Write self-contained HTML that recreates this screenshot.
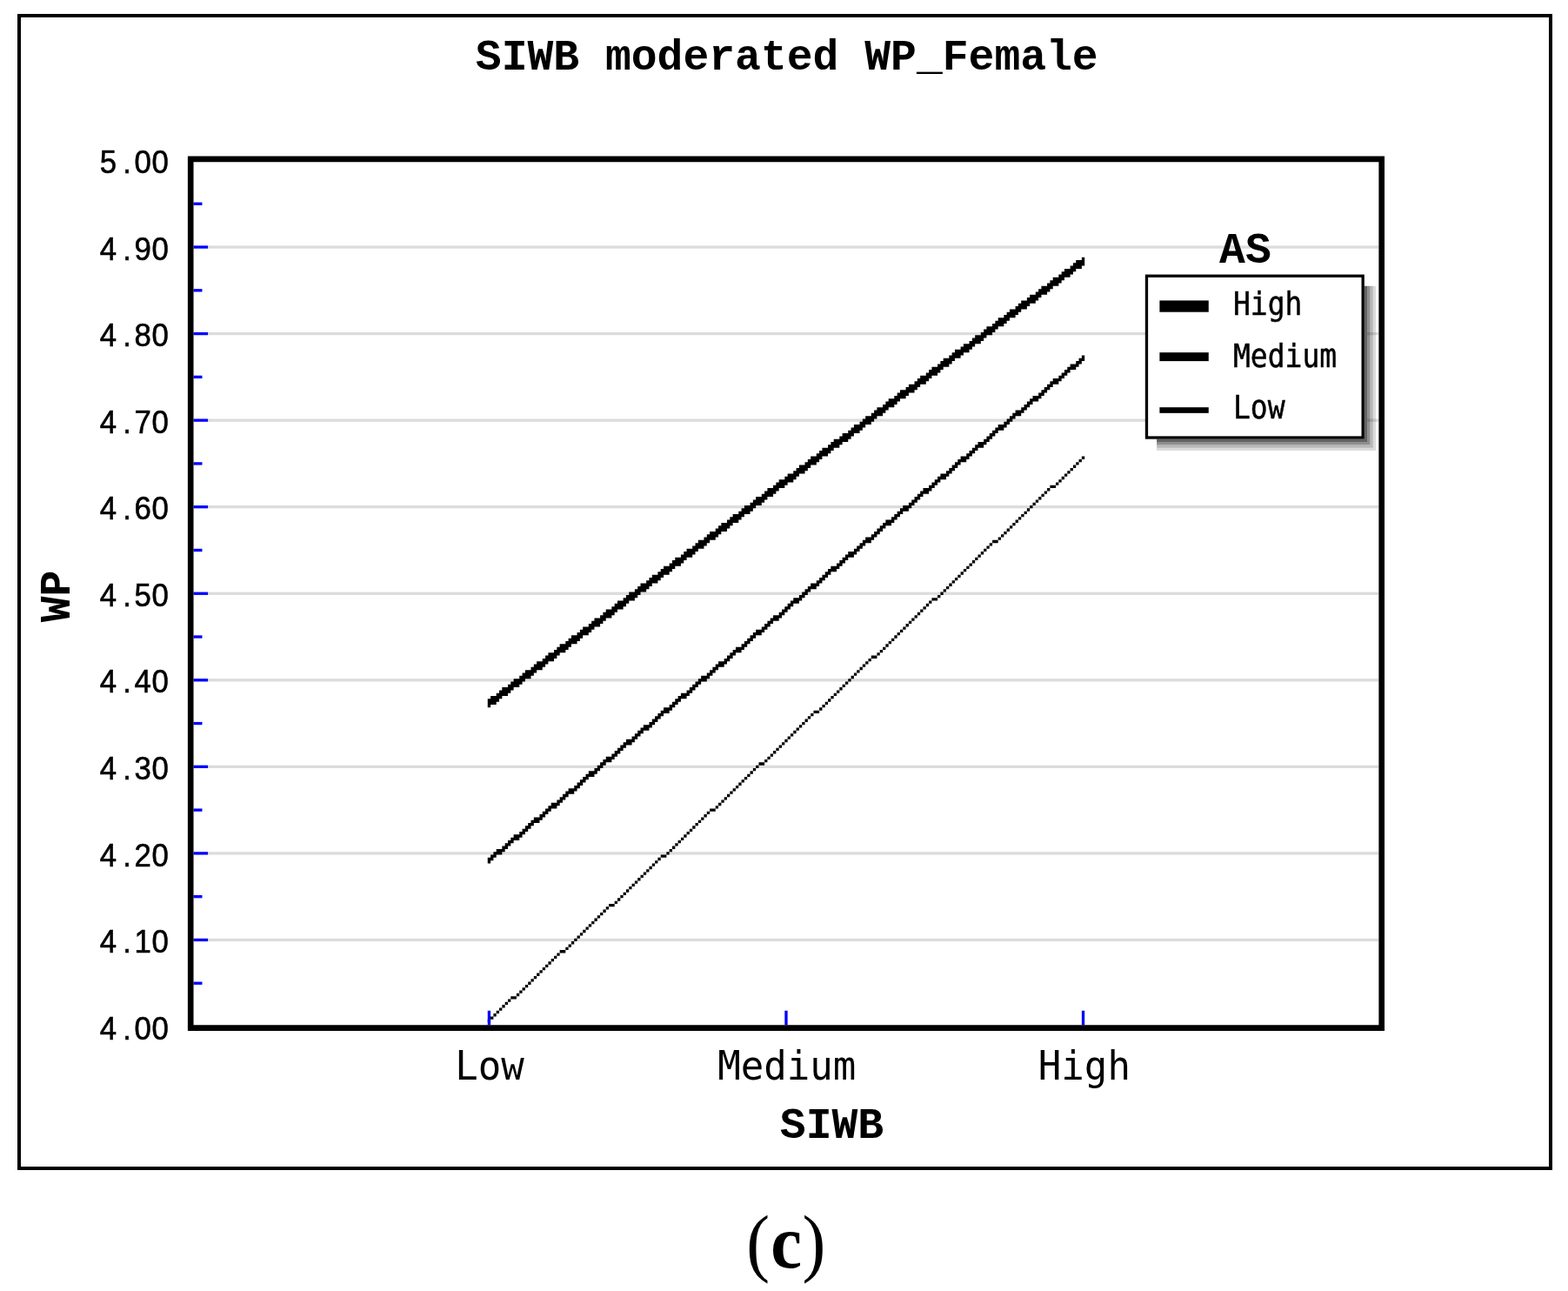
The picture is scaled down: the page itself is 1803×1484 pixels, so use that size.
<!DOCTYPE html>
<html lang="en">
<head>
<meta charset="utf-8">
<title>SIWB moderated WP_Female</title>
<style>
html,body{margin:0;padding:0;background:#fff;}
body{width:1803px;height:1484px;overflow:hidden;}
svg{display:block;}
text{fill:#000;white-space:pre;}
.m{font-family:"DejaVu Sans Mono", "Liberation Mono", monospace;}
.n{font-family:"Liberation Sans", "DejaVu Sans", sans-serif;stroke:#000;stroke-width:0.6px;}
.k{stroke:#000;stroke-width:0.5px;}
.b{font-family:"Liberation Mono", "DejaVu Sans Mono", monospace;font-weight:bold;}
.s{font-family:"Liberation Serif", "DejaVu Serif", serif;}
</style>
</head>
<body>
<svg width="1803" height="1484" viewBox="0 0 1803 1484">
<rect x="0" y="0" width="1803" height="1484" fill="#fff"/>
<!-- outer frame -->
<rect x="22" y="18" width="1761" height="1325" fill="none" stroke="#000" stroke-width="4"/>
<!-- horizontal grid lines -->
<g fill="#dcdcdc">
<rect x="239.11" y="282.37" width="1346.30" height="3.32" fill="#dcdcdc"/>
<rect x="239.11" y="381.92" width="1081.02" height="3.32" fill="#dcdcdc"/>
<rect x="1572.14" y="381.92" width="13.27" height="3.32" fill="#dcdcdc"/>
<rect x="239.11" y="481.47" width="1081.02" height="3.32" fill="#dcdcdc"/>
<rect x="1572.14" y="481.47" width="13.27" height="3.32" fill="#dcdcdc"/>
<rect x="239.11" y="581.03" width="1346.30" height="3.31" fill="#dcdcdc"/>
<rect x="239.11" y="680.58" width="1346.30" height="3.32" fill="#dcdcdc"/>
<rect x="239.11" y="780.13" width="1346.30" height="3.32" fill="#dcdcdc"/>
<rect x="239.11" y="879.68" width="1346.30" height="3.32" fill="#dcdcdc"/>
<rect x="239.11" y="979.23" width="1346.30" height="3.32" fill="#dcdcdc"/>
<rect x="239.11" y="1078.79" width="1346.30" height="3.31" fill="#dcdcdc"/>
</g>
<!-- data series -->
<path fill="#000" d="M560.76 1171.70 L564.08 1171.70 L564.08 1168.38 L567.40 1168.38 L567.40 1165.06 L570.71 1165.06 L570.71 1161.75 L574.03 1161.75 L574.03 1158.43 L577.34 1158.43 L577.34 1155.11 L580.66 1155.11 L580.66 1151.79 L583.98 1151.79 L583.98 1148.47 L587.29 1148.47 L587.29 1145.15 L590.61 1145.15 L593.92 1145.15 L593.92 1141.84 L597.24 1141.84 L597.24 1138.52 L600.56 1138.52 L600.56 1135.20 L603.87 1135.20 L603.87 1131.88 L607.19 1131.88 L607.19 1128.56 L610.50 1128.56 L610.50 1125.24 L613.82 1125.24 L613.82 1121.93 L617.14 1121.93 L617.14 1118.61 L620.45 1118.61 L620.45 1115.29 L623.77 1115.29 L623.77 1111.97 L627.08 1111.97 L627.08 1108.65 L630.40 1108.65 L630.40 1105.33 L633.72 1105.33 L633.72 1102.02 L637.03 1102.02 L637.03 1098.70 L640.35 1098.70 L640.35 1095.38 L643.66 1095.38 L643.66 1092.06 L646.98 1092.06 L650.30 1092.06 L650.30 1088.74 L653.61 1088.74 L653.61 1085.42 L656.93 1085.42 L656.93 1082.10 L660.24 1082.10 L660.24 1078.79 L663.56 1078.79 L663.56 1075.47 L666.88 1075.47 L666.88 1072.15 L670.19 1072.15 L670.19 1068.83 L673.51 1068.83 L673.51 1065.51 L676.82 1065.51 L676.82 1062.19 L680.14 1062.19 L680.14 1058.88 L683.46 1058.88 L683.46 1055.56 L686.77 1055.56 L686.77 1052.24 L690.09 1052.24 L690.09 1048.92 L693.40 1048.92 L693.40 1045.60 L696.72 1045.60 L696.72 1042.28 L700.04 1042.28 L700.04 1038.97 L703.35 1038.97 L706.67 1038.97 L706.67 1035.65 L709.98 1035.65 L709.98 1032.33 L713.30 1032.33 L713.30 1029.01 L716.62 1029.01 L716.62 1025.69 L719.93 1025.69 L719.93 1022.37 L723.25 1022.37 L723.25 1019.06 L726.56 1019.06 L726.56 1015.74 L729.88 1015.74 L729.88 1012.42 L733.20 1012.42 L733.20 1009.10 L736.51 1009.10 L736.51 1005.78 L739.83 1005.78 L739.83 1002.46 L743.14 1002.46 L743.14 999.14 L746.46 999.14 L746.46 995.83 L749.78 995.83 L749.78 992.51 L753.09 992.51 L753.09 989.19 L756.41 989.19 L756.41 985.87 L759.72 985.87 L759.72 982.55 L763.04 982.55 L766.36 982.55 L766.36 979.23 L769.67 979.23 L769.67 975.92 L772.99 975.92 L772.99 972.60 L776.30 972.60 L776.30 969.28 L779.62 969.28 L779.62 965.96 L782.94 965.96 L782.94 962.64 L786.25 962.64 L786.25 959.32 L789.57 959.32 L789.57 956.01 L792.88 956.01 L792.88 952.69 L796.20 952.69 L796.20 949.37 L799.52 949.37 L799.52 946.05 L802.83 946.05 L802.83 942.73 L806.15 942.73 L806.15 939.41 L809.46 939.41 L809.46 936.10 L812.78 936.10 L812.78 932.78 L816.10 932.78 L816.10 929.46 L819.41 929.46 L822.73 929.46 L822.73 926.14 L826.04 926.14 L826.04 922.82 L829.36 922.82 L829.36 919.50 L832.68 919.50 L832.68 916.18 L835.99 916.18 L835.99 912.87 L839.31 912.87 L839.31 909.55 L842.62 909.55 L842.62 906.23 L845.94 906.23 L845.94 902.91 L849.26 902.91 L849.26 899.59 L852.57 899.59 L852.57 896.27 L855.89 896.27 L855.89 892.96 L859.20 892.96 L859.20 889.64 L862.52 889.64 L862.52 886.32 L865.84 886.32 L865.84 883.00 L869.15 883.00 L869.15 879.68 L872.47 879.68 L872.47 876.36 L875.78 876.36 L879.10 876.36 L879.10 873.05 L882.42 873.05 L882.42 869.73 L885.73 869.73 L885.73 866.41 L889.05 866.41 L889.05 863.09 L892.36 863.09 L892.36 859.77 L895.68 859.77 L895.68 856.45 L899.00 856.45 L899.00 853.14 L902.31 853.14 L902.31 849.82 L905.63 849.82 L905.63 846.50 L908.94 846.50 L908.94 843.18 L912.26 843.18 L912.26 839.86 L915.58 839.86 L915.58 836.54 L918.89 836.54 L918.89 833.22 L922.21 833.22 L922.21 829.91 L925.52 829.91 L925.52 826.59 L928.84 826.59 L928.84 823.27 L932.16 823.27 L932.16 819.95 L935.47 819.95 L935.47 816.63 L938.79 816.63 L942.10 816.63 L942.10 813.31 L945.42 813.31 L945.42 810.00 L948.74 810.00 L948.74 806.68 L952.05 806.68 L952.05 803.36 L955.37 803.36 L955.37 800.04 L958.68 800.04 L958.68 796.72 L962.00 796.72 L962.00 793.40 L965.32 793.40 L965.32 790.09 L968.63 790.09 L968.63 786.77 L971.95 786.77 L971.95 783.45 L975.26 783.45 L975.26 780.13 L978.58 780.13 L978.58 776.81 L981.90 776.81 L981.90 773.49 L985.21 773.49 L985.21 770.18 L988.53 770.18 L988.53 766.86 L991.84 766.86 L991.84 763.54 L995.16 763.54 L995.16 760.22 L998.48 760.22 L998.48 756.90 L1001.79 756.90 L1001.79 753.58 L1005.11 753.58 L1008.42 753.58 L1008.42 750.26 L1011.74 750.26 L1011.74 746.95 L1015.06 746.95 L1015.06 743.63 L1018.37 743.63 L1018.37 740.31 L1021.69 740.31 L1021.69 736.99 L1025.00 736.99 L1025.00 733.67 L1028.32 733.67 L1028.32 730.35 L1031.64 730.35 L1031.64 727.04 L1034.95 727.04 L1034.95 723.72 L1038.27 723.72 L1038.27 720.40 L1041.58 720.40 L1041.58 717.08 L1044.90 717.08 L1044.90 713.76 L1048.22 713.76 L1048.22 710.44 L1051.53 710.44 L1051.53 707.13 L1054.85 707.13 L1054.85 703.81 L1058.16 703.81 L1058.16 700.49 L1061.48 700.49 L1061.48 697.17 L1064.80 697.17 L1064.80 693.85 L1068.11 693.85 L1068.11 690.53 L1071.43 690.53 L1071.43 687.22 L1074.74 687.22 L1078.06 687.22 L1078.06 683.90 L1081.38 683.90 L1081.38 680.58 L1084.69 680.58 L1084.69 677.26 L1088.01 677.26 L1088.01 673.94 L1091.32 673.94 L1091.32 670.62 L1094.64 670.62 L1094.64 667.30 L1097.96 667.30 L1097.96 663.99 L1101.27 663.99 L1101.27 660.67 L1104.59 660.67 L1104.59 657.35 L1107.90 657.35 L1107.90 654.03 L1111.22 654.03 L1111.22 650.71 L1114.54 650.71 L1114.54 647.39 L1117.85 647.39 L1117.85 644.08 L1121.17 644.08 L1121.17 640.76 L1124.48 640.76 L1124.48 637.44 L1127.80 637.44 L1127.80 634.12 L1131.12 634.12 L1131.12 630.80 L1134.43 630.80 L1134.43 627.48 L1137.75 627.48 L1137.75 624.17 L1141.06 624.17 L1141.06 620.85 L1144.38 620.85 L1147.70 620.85 L1147.70 617.53 L1151.01 617.53 L1151.01 614.21 L1154.33 614.21 L1154.33 610.89 L1157.64 610.89 L1157.64 607.57 L1160.96 607.57 L1160.96 604.26 L1164.28 604.26 L1164.28 600.94 L1167.59 600.94 L1167.59 597.62 L1170.91 597.62 L1170.91 594.30 L1174.22 594.30 L1174.22 590.98 L1177.54 590.98 L1177.54 587.66 L1180.86 587.66 L1180.86 584.34 L1184.17 584.34 L1184.17 581.03 L1187.49 581.03 L1187.49 577.71 L1190.80 577.71 L1190.80 574.39 L1194.12 574.39 L1194.12 571.07 L1197.44 571.07 L1197.44 567.75 L1200.75 567.75 L1200.75 564.43 L1204.07 564.43 L1204.07 561.12 L1207.38 561.12 L1207.38 557.80 L1210.70 557.80 L1214.02 557.80 L1214.02 554.48 L1217.33 554.48 L1217.33 551.16 L1220.65 551.16 L1220.65 547.84 L1223.96 547.84 L1223.96 544.52 L1227.28 544.52 L1227.28 541.21 L1230.60 541.21 L1230.60 537.89 L1233.91 537.89 L1233.91 534.57 L1237.23 534.57 L1237.23 531.25 L1240.54 531.25 L1240.54 527.93 L1243.86 527.93 L1243.86 524.61 L1247.18 524.61 L1247.18 527.93 L1243.86 527.93 L1243.86 531.25 L1240.54 531.25 L1240.54 534.57 L1237.23 534.57 L1237.23 537.89 L1233.91 537.89 L1233.91 541.21 L1230.60 541.21 L1230.60 544.52 L1227.28 544.52 L1227.28 547.84 L1223.96 547.84 L1223.96 551.16 L1220.65 551.16 L1220.65 554.48 L1217.33 554.48 L1217.33 557.80 L1214.02 557.80 L1214.02 561.12 L1210.70 561.12 L1207.38 561.12 L1207.38 564.43 L1204.07 564.43 L1204.07 567.75 L1200.75 567.75 L1200.75 571.07 L1197.44 571.07 L1197.44 574.39 L1194.12 574.39 L1194.12 577.71 L1190.80 577.71 L1190.80 581.03 L1187.49 581.03 L1187.49 584.34 L1184.17 584.34 L1184.17 587.66 L1180.86 587.66 L1180.86 590.98 L1177.54 590.98 L1177.54 594.30 L1174.22 594.30 L1174.22 597.62 L1170.91 597.62 L1170.91 600.94 L1167.59 600.94 L1167.59 604.26 L1164.28 604.26 L1164.28 607.57 L1160.96 607.57 L1160.96 610.89 L1157.64 610.89 L1157.64 614.21 L1154.33 614.21 L1154.33 617.53 L1151.01 617.53 L1151.01 620.85 L1147.70 620.85 L1147.70 624.17 L1144.38 624.17 L1141.06 624.17 L1141.06 627.48 L1137.75 627.48 L1137.75 630.80 L1134.43 630.80 L1134.43 634.12 L1131.12 634.12 L1131.12 637.44 L1127.80 637.44 L1127.80 640.76 L1124.48 640.76 L1124.48 644.08 L1121.17 644.08 L1121.17 647.39 L1117.85 647.39 L1117.85 650.71 L1114.54 650.71 L1114.54 654.03 L1111.22 654.03 L1111.22 657.35 L1107.90 657.35 L1107.90 660.67 L1104.59 660.67 L1104.59 663.99 L1101.27 663.99 L1101.27 667.30 L1097.96 667.30 L1097.96 670.62 L1094.64 670.62 L1094.64 673.94 L1091.32 673.94 L1091.32 677.26 L1088.01 677.26 L1088.01 680.58 L1084.69 680.58 L1084.69 683.90 L1081.38 683.90 L1081.38 687.22 L1078.06 687.22 L1078.06 690.53 L1074.74 690.53 L1071.43 690.53 L1071.43 693.85 L1068.11 693.85 L1068.11 697.17 L1064.80 697.17 L1064.80 700.49 L1061.48 700.49 L1061.48 703.81 L1058.16 703.81 L1058.16 707.13 L1054.85 707.13 L1054.85 710.44 L1051.53 710.44 L1051.53 713.76 L1048.22 713.76 L1048.22 717.08 L1044.90 717.08 L1044.90 720.40 L1041.58 720.40 L1041.58 723.72 L1038.27 723.72 L1038.27 727.04 L1034.95 727.04 L1034.95 730.35 L1031.64 730.35 L1031.64 733.67 L1028.32 733.67 L1028.32 736.99 L1025.00 736.99 L1025.00 740.31 L1021.69 740.31 L1021.69 743.63 L1018.37 743.63 L1018.37 746.95 L1015.06 746.95 L1015.06 750.26 L1011.74 750.26 L1011.74 753.58 L1008.42 753.58 L1008.42 756.90 L1005.11 756.90 L1001.79 756.90 L1001.79 760.22 L998.48 760.22 L998.48 763.54 L995.16 763.54 L995.16 766.86 L991.84 766.86 L991.84 770.18 L988.53 770.18 L988.53 773.49 L985.21 773.49 L985.21 776.81 L981.90 776.81 L981.90 780.13 L978.58 780.13 L978.58 783.45 L975.26 783.45 L975.26 786.77 L971.95 786.77 L971.95 790.09 L968.63 790.09 L968.63 793.40 L965.32 793.40 L965.32 796.72 L962.00 796.72 L962.00 800.04 L958.68 800.04 L958.68 803.36 L955.37 803.36 L955.37 806.68 L952.05 806.68 L952.05 810.00 L948.74 810.00 L948.74 813.31 L945.42 813.31 L945.42 816.63 L942.10 816.63 L942.10 819.95 L938.79 819.95 L935.47 819.95 L935.47 823.27 L932.16 823.27 L932.16 826.59 L928.84 826.59 L928.84 829.91 L925.52 829.91 L925.52 833.22 L922.21 833.22 L922.21 836.54 L918.89 836.54 L918.89 839.86 L915.58 839.86 L915.58 843.18 L912.26 843.18 L912.26 846.50 L908.94 846.50 L908.94 849.82 L905.63 849.82 L905.63 853.14 L902.31 853.14 L902.31 856.45 L899.00 856.45 L899.00 859.77 L895.68 859.77 L895.68 863.09 L892.36 863.09 L892.36 866.41 L889.05 866.41 L889.05 869.73 L885.73 869.73 L885.73 873.05 L882.42 873.05 L882.42 876.36 L879.10 876.36 L879.10 879.68 L875.78 879.68 L872.47 879.68 L872.47 883.00 L869.15 883.00 L869.15 886.32 L865.84 886.32 L865.84 889.64 L862.52 889.64 L862.52 892.96 L859.20 892.96 L859.20 896.27 L855.89 896.27 L855.89 899.59 L852.57 899.59 L852.57 902.91 L849.26 902.91 L849.26 906.23 L845.94 906.23 L845.94 909.55 L842.62 909.55 L842.62 912.87 L839.31 912.87 L839.31 916.18 L835.99 916.18 L835.99 919.50 L832.68 919.50 L832.68 922.82 L829.36 922.82 L829.36 926.14 L826.04 926.14 L826.04 929.46 L822.73 929.46 L822.73 932.78 L819.41 932.78 L816.10 932.78 L816.10 936.10 L812.78 936.10 L812.78 939.41 L809.46 939.41 L809.46 942.73 L806.15 942.73 L806.15 946.05 L802.83 946.05 L802.83 949.37 L799.52 949.37 L799.52 952.69 L796.20 952.69 L796.20 956.01 L792.88 956.01 L792.88 959.32 L789.57 959.32 L789.57 962.64 L786.25 962.64 L786.25 965.96 L782.94 965.96 L782.94 969.28 L779.62 969.28 L779.62 972.60 L776.30 972.60 L776.30 975.92 L772.99 975.92 L772.99 979.23 L769.67 979.23 L769.67 982.55 L766.36 982.55 L766.36 985.87 L763.04 985.87 L759.72 985.87 L759.72 989.19 L756.41 989.19 L756.41 992.51 L753.09 992.51 L753.09 995.83 L749.78 995.83 L749.78 999.14 L746.46 999.14 L746.46 1002.46 L743.14 1002.46 L743.14 1005.78 L739.83 1005.78 L739.83 1009.10 L736.51 1009.10 L736.51 1012.42 L733.20 1012.42 L733.20 1015.74 L729.88 1015.74 L729.88 1019.06 L726.56 1019.06 L726.56 1022.37 L723.25 1022.37 L723.25 1025.69 L719.93 1025.69 L719.93 1029.01 L716.62 1029.01 L716.62 1032.33 L713.30 1032.33 L713.30 1035.65 L709.98 1035.65 L709.98 1038.97 L706.67 1038.97 L706.67 1042.28 L703.35 1042.28 L700.04 1042.28 L700.04 1045.60 L696.72 1045.60 L696.72 1048.92 L693.40 1048.92 L693.40 1052.24 L690.09 1052.24 L690.09 1055.56 L686.77 1055.56 L686.77 1058.88 L683.46 1058.88 L683.46 1062.19 L680.14 1062.19 L680.14 1065.51 L676.82 1065.51 L676.82 1068.83 L673.51 1068.83 L673.51 1072.15 L670.19 1072.15 L670.19 1075.47 L666.88 1075.47 L666.88 1078.79 L663.56 1078.79 L663.56 1082.10 L660.24 1082.10 L660.24 1085.42 L656.93 1085.42 L656.93 1088.74 L653.61 1088.74 L653.61 1092.06 L650.30 1092.06 L650.30 1095.38 L646.98 1095.38 L643.66 1095.38 L643.66 1098.70 L640.35 1098.70 L640.35 1102.02 L637.03 1102.02 L637.03 1105.33 L633.72 1105.33 L633.72 1108.65 L630.40 1108.65 L630.40 1111.97 L627.08 1111.97 L627.08 1115.29 L623.77 1115.29 L623.77 1118.61 L620.45 1118.61 L620.45 1121.93 L617.14 1121.93 L617.14 1125.24 L613.82 1125.24 L613.82 1128.56 L610.50 1128.56 L610.50 1131.88 L607.19 1131.88 L607.19 1135.20 L603.87 1135.20 L603.87 1138.52 L600.56 1138.52 L600.56 1141.84 L597.24 1141.84 L597.24 1145.15 L593.92 1145.15 L593.92 1148.47 L590.61 1148.47 L587.29 1148.47 L587.29 1151.79 L583.98 1151.79 L583.98 1155.11 L580.66 1155.11 L580.66 1158.43 L577.34 1158.43 L577.34 1161.75 L574.03 1161.75 L574.03 1165.06 L570.71 1165.06 L570.71 1168.38 L567.40 1168.38 L567.40 1171.70 L564.08 1171.70 L564.08 1175.02 L560.76 1175.02Z"/>
<path fill="#000" d="M560.76 985.87 L564.08 985.87 L564.08 982.55 L567.40 982.55 L567.40 979.23 L570.71 979.23 L570.71 975.92 L574.03 975.92 L577.34 975.92 L577.34 972.60 L580.66 972.60 L580.66 969.28 L583.98 969.28 L583.98 965.96 L587.29 965.96 L587.29 962.64 L590.61 962.64 L590.61 959.32 L593.92 959.32 L597.24 959.32 L597.24 956.01 L600.56 956.01 L600.56 952.69 L603.87 952.69 L603.87 949.37 L607.19 949.37 L607.19 946.05 L610.50 946.05 L610.50 942.73 L613.82 942.73 L613.82 939.41 L617.14 939.41 L620.45 939.41 L620.45 936.10 L623.77 936.10 L623.77 932.78 L627.08 932.78 L627.08 929.46 L630.40 929.46 L630.40 926.14 L633.72 926.14 L633.72 922.82 L637.03 922.82 L640.35 922.82 L640.35 919.50 L643.66 919.50 L643.66 916.18 L646.98 916.18 L646.98 912.87 L650.30 912.87 L650.30 909.55 L653.61 909.55 L653.61 906.23 L656.93 906.23 L660.24 906.23 L660.24 902.91 L663.56 902.91 L663.56 899.59 L666.88 899.59 L666.88 896.27 L670.19 896.27 L670.19 892.96 L673.51 892.96 L673.51 889.64 L676.82 889.64 L676.82 886.32 L680.14 886.32 L683.46 886.32 L683.46 883.00 L686.77 883.00 L686.77 879.68 L690.09 879.68 L690.09 876.36 L693.40 876.36 L693.40 873.05 L696.72 873.05 L696.72 869.73 L700.04 869.73 L703.35 869.73 L703.35 866.41 L706.67 866.41 L706.67 863.09 L709.98 863.09 L709.98 859.77 L713.30 859.77 L713.30 856.45 L716.62 856.45 L716.62 853.14 L719.93 853.14 L719.93 849.82 L723.25 849.82 L726.56 849.82 L726.56 846.50 L729.88 846.50 L729.88 843.18 L733.20 843.18 L733.20 839.86 L736.51 839.86 L736.51 836.54 L739.83 836.54 L739.83 833.22 L743.14 833.22 L746.46 833.22 L746.46 829.91 L749.78 829.91 L749.78 826.59 L753.09 826.59 L753.09 823.27 L756.41 823.27 L756.41 819.95 L759.72 819.95 L759.72 816.63 L763.04 816.63 L763.04 813.31 L766.36 813.31 L769.67 813.31 L769.67 810.00 L772.99 810.00 L772.99 806.68 L776.30 806.68 L776.30 803.36 L779.62 803.36 L779.62 800.04 L782.94 800.04 L782.94 796.72 L786.25 796.72 L789.57 796.72 L789.57 793.40 L792.88 793.40 L792.88 790.09 L796.20 790.09 L796.20 786.77 L799.52 786.77 L799.52 783.45 L802.83 783.45 L802.83 780.13 L806.15 780.13 L806.15 776.81 L809.46 776.81 L812.78 776.81 L812.78 773.49 L816.10 773.49 L816.10 770.18 L819.41 770.18 L819.41 766.86 L822.73 766.86 L822.73 763.54 L826.04 763.54 L826.04 760.22 L829.36 760.22 L832.68 760.22 L832.68 756.90 L835.99 756.90 L835.99 753.58 L839.31 753.58 L839.31 750.26 L842.62 750.26 L842.62 746.95 L845.94 746.95 L845.94 743.63 L849.26 743.63 L852.57 743.63 L852.57 740.31 L855.89 740.31 L855.89 736.99 L859.20 736.99 L859.20 733.67 L862.52 733.67 L862.52 730.35 L865.84 730.35 L865.84 727.04 L869.15 727.04 L869.15 723.72 L872.47 723.72 L875.78 723.72 L875.78 720.40 L879.10 720.40 L879.10 717.08 L882.42 717.08 L882.42 713.76 L885.73 713.76 L885.73 710.44 L889.05 710.44 L889.05 707.13 L892.36 707.13 L895.68 707.13 L895.68 703.81 L899.00 703.81 L899.00 700.49 L902.31 700.49 L902.31 697.17 L905.63 697.17 L905.63 693.85 L908.94 693.85 L908.94 690.53 L912.26 690.53 L912.26 687.22 L915.58 687.22 L918.89 687.22 L918.89 683.90 L922.21 683.90 L922.21 680.58 L925.52 680.58 L925.52 677.26 L928.84 677.26 L928.84 673.94 L932.16 673.94 L932.16 670.62 L935.47 670.62 L938.79 670.62 L938.79 667.30 L942.10 667.30 L942.10 663.99 L945.42 663.99 L945.42 660.67 L948.74 660.67 L948.74 657.35 L952.05 657.35 L952.05 654.03 L955.37 654.03 L955.37 650.71 L958.68 650.71 L962.00 650.71 L962.00 647.39 L965.32 647.39 L965.32 644.08 L968.63 644.08 L968.63 640.76 L971.95 640.76 L971.95 637.44 L975.26 637.44 L975.26 634.12 L978.58 634.12 L981.90 634.12 L981.90 630.80 L985.21 630.80 L985.21 627.48 L988.53 627.48 L988.53 624.17 L991.84 624.17 L991.84 620.85 L995.16 620.85 L995.16 617.53 L998.48 617.53 L1001.79 617.53 L1001.79 614.21 L1005.11 614.21 L1005.11 610.89 L1008.42 610.89 L1008.42 607.57 L1011.74 607.57 L1011.74 604.26 L1015.06 604.26 L1015.06 600.94 L1018.37 600.94 L1018.37 597.62 L1021.69 597.62 L1025.00 597.62 L1025.00 594.30 L1028.32 594.30 L1028.32 590.98 L1031.64 590.98 L1031.64 587.66 L1034.95 587.66 L1034.95 584.34 L1038.27 584.34 L1038.27 581.03 L1041.58 581.03 L1044.90 581.03 L1044.90 577.71 L1048.22 577.71 L1048.22 574.39 L1051.53 574.39 L1051.53 571.07 L1054.85 571.07 L1054.85 567.75 L1058.16 567.75 L1058.16 564.43 L1061.48 564.43 L1061.48 561.12 L1064.80 561.12 L1068.11 561.12 L1068.11 557.80 L1071.43 557.80 L1071.43 554.48 L1074.74 554.48 L1074.74 551.16 L1078.06 551.16 L1078.06 547.84 L1081.38 547.84 L1081.38 544.52 L1084.69 544.52 L1088.01 544.52 L1088.01 541.21 L1091.32 541.21 L1091.32 537.89 L1094.64 537.89 L1094.64 534.57 L1097.96 534.57 L1097.96 531.25 L1101.27 531.25 L1101.27 527.93 L1104.59 527.93 L1104.59 524.61 L1107.90 524.61 L1111.22 524.61 L1111.22 521.30 L1114.54 521.30 L1114.54 517.98 L1117.85 517.98 L1117.85 514.66 L1121.17 514.66 L1121.17 511.34 L1124.48 511.34 L1124.48 508.02 L1127.80 508.02 L1131.12 508.02 L1131.12 504.70 L1134.43 504.70 L1134.43 501.38 L1137.75 501.38 L1137.75 498.07 L1141.06 498.07 L1141.06 494.75 L1144.38 494.75 L1144.38 491.43 L1147.70 491.43 L1147.70 488.11 L1151.01 488.11 L1154.33 488.11 L1154.33 484.79 L1157.64 484.79 L1157.64 481.47 L1160.96 481.47 L1160.96 478.16 L1164.28 478.16 L1164.28 474.84 L1167.59 474.84 L1167.59 471.52 L1170.91 471.52 L1174.22 471.52 L1174.22 468.20 L1177.54 468.20 L1177.54 464.88 L1180.86 464.88 L1180.86 461.56 L1184.17 461.56 L1184.17 458.25 L1187.49 458.25 L1187.49 454.93 L1190.80 454.93 L1194.12 454.93 L1194.12 451.61 L1197.44 451.61 L1197.44 448.29 L1200.75 448.29 L1200.75 444.97 L1204.07 444.97 L1204.07 441.65 L1207.38 441.65 L1207.38 438.34 L1210.70 438.34 L1210.70 435.02 L1214.02 435.02 L1217.33 435.02 L1217.33 431.70 L1220.65 431.70 L1220.65 428.38 L1223.96 428.38 L1223.96 425.06 L1227.28 425.06 L1227.28 421.74 L1230.60 421.74 L1230.60 418.42 L1233.91 418.42 L1237.23 418.42 L1237.23 415.11 L1240.54 415.11 L1240.54 411.79 L1243.86 411.79 L1243.86 408.47 L1247.18 408.47 L1247.18 415.11 L1243.86 415.11 L1243.86 418.42 L1240.54 418.42 L1240.54 421.74 L1237.23 421.74 L1237.23 425.06 L1233.91 425.06 L1230.60 425.06 L1230.60 428.38 L1227.28 428.38 L1227.28 431.70 L1223.96 431.70 L1223.96 435.02 L1220.65 435.02 L1220.65 438.34 L1217.33 438.34 L1217.33 441.65 L1214.02 441.65 L1210.70 441.65 L1210.70 444.97 L1207.38 444.97 L1207.38 448.29 L1204.07 448.29 L1204.07 451.61 L1200.75 451.61 L1200.75 454.93 L1197.44 454.93 L1197.44 458.25 L1194.12 458.25 L1194.12 461.56 L1190.80 461.56 L1187.49 461.56 L1187.49 464.88 L1184.17 464.88 L1184.17 468.20 L1180.86 468.20 L1180.86 471.52 L1177.54 471.52 L1177.54 474.84 L1174.22 474.84 L1174.22 478.16 L1170.91 478.16 L1167.59 478.16 L1167.59 481.47 L1164.28 481.47 L1164.28 484.79 L1160.96 484.79 L1160.96 488.11 L1157.64 488.11 L1157.64 491.43 L1154.33 491.43 L1154.33 494.75 L1151.01 494.75 L1147.70 494.75 L1147.70 498.07 L1144.38 498.07 L1144.38 501.38 L1141.06 501.38 L1141.06 504.70 L1137.75 504.70 L1137.75 508.02 L1134.43 508.02 L1134.43 511.34 L1131.12 511.34 L1131.12 514.66 L1127.80 514.66 L1124.48 514.66 L1124.48 517.98 L1121.17 517.98 L1121.17 521.30 L1117.85 521.30 L1117.85 524.61 L1114.54 524.61 L1114.54 527.93 L1111.22 527.93 L1111.22 531.25 L1107.90 531.25 L1104.59 531.25 L1104.59 534.57 L1101.27 534.57 L1101.27 537.89 L1097.96 537.89 L1097.96 541.21 L1094.64 541.21 L1094.64 544.52 L1091.32 544.52 L1091.32 547.84 L1088.01 547.84 L1088.01 551.16 L1084.69 551.16 L1081.38 551.16 L1081.38 554.48 L1078.06 554.48 L1078.06 557.80 L1074.74 557.80 L1074.74 561.12 L1071.43 561.12 L1071.43 564.43 L1068.11 564.43 L1068.11 567.75 L1064.80 567.75 L1061.48 567.75 L1061.48 571.07 L1058.16 571.07 L1058.16 574.39 L1054.85 574.39 L1054.85 577.71 L1051.53 577.71 L1051.53 581.03 L1048.22 581.03 L1048.22 584.34 L1044.90 584.34 L1044.90 587.66 L1041.58 587.66 L1038.27 587.66 L1038.27 590.98 L1034.95 590.98 L1034.95 594.30 L1031.64 594.30 L1031.64 597.62 L1028.32 597.62 L1028.32 600.94 L1025.00 600.94 L1025.00 604.26 L1021.69 604.26 L1018.37 604.26 L1018.37 607.57 L1015.06 607.57 L1015.06 610.89 L1011.74 610.89 L1011.74 614.21 L1008.42 614.21 L1008.42 617.53 L1005.11 617.53 L1005.11 620.85 L1001.79 620.85 L1001.79 624.17 L998.48 624.17 L995.16 624.17 L995.16 627.48 L991.84 627.48 L991.84 630.80 L988.53 630.80 L988.53 634.12 L985.21 634.12 L985.21 637.44 L981.90 637.44 L981.90 640.76 L978.58 640.76 L975.26 640.76 L975.26 644.08 L971.95 644.08 L971.95 647.39 L968.63 647.39 L968.63 650.71 L965.32 650.71 L965.32 654.03 L962.00 654.03 L962.00 657.35 L958.68 657.35 L955.37 657.35 L955.37 660.67 L952.05 660.67 L952.05 663.99 L948.74 663.99 L948.74 667.30 L945.42 667.30 L945.42 670.62 L942.10 670.62 L942.10 673.94 L938.79 673.94 L938.79 677.26 L935.47 677.26 L932.16 677.26 L932.16 680.58 L928.84 680.58 L928.84 683.90 L925.52 683.90 L925.52 687.22 L922.21 687.22 L922.21 690.53 L918.89 690.53 L918.89 693.85 L915.58 693.85 L912.26 693.85 L912.26 697.17 L908.94 697.17 L908.94 700.49 L905.63 700.49 L905.63 703.81 L902.31 703.81 L902.31 707.13 L899.00 707.13 L899.00 710.44 L895.68 710.44 L895.68 713.76 L892.36 713.76 L889.05 713.76 L889.05 717.08 L885.73 717.08 L885.73 720.40 L882.42 720.40 L882.42 723.72 L879.10 723.72 L879.10 727.04 L875.78 727.04 L875.78 730.35 L872.47 730.35 L869.15 730.35 L869.15 733.67 L865.84 733.67 L865.84 736.99 L862.52 736.99 L862.52 740.31 L859.20 740.31 L859.20 743.63 L855.89 743.63 L855.89 746.95 L852.57 746.95 L852.57 750.26 L849.26 750.26 L845.94 750.26 L845.94 753.58 L842.62 753.58 L842.62 756.90 L839.31 756.90 L839.31 760.22 L835.99 760.22 L835.99 763.54 L832.68 763.54 L832.68 766.86 L829.36 766.86 L826.04 766.86 L826.04 770.18 L822.73 770.18 L822.73 773.49 L819.41 773.49 L819.41 776.81 L816.10 776.81 L816.10 780.13 L812.78 780.13 L812.78 783.45 L809.46 783.45 L806.15 783.45 L806.15 786.77 L802.83 786.77 L802.83 790.09 L799.52 790.09 L799.52 793.40 L796.20 793.40 L796.20 796.72 L792.88 796.72 L792.88 800.04 L789.57 800.04 L789.57 803.36 L786.25 803.36 L782.94 803.36 L782.94 806.68 L779.62 806.68 L779.62 810.00 L776.30 810.00 L776.30 813.31 L772.99 813.31 L772.99 816.63 L769.67 816.63 L769.67 819.95 L766.36 819.95 L763.04 819.95 L763.04 823.27 L759.72 823.27 L759.72 826.59 L756.41 826.59 L756.41 829.91 L753.09 829.91 L753.09 833.22 L749.78 833.22 L749.78 836.54 L746.46 836.54 L746.46 839.86 L743.14 839.86 L739.83 839.86 L739.83 843.18 L736.51 843.18 L736.51 846.50 L733.20 846.50 L733.20 849.82 L729.88 849.82 L729.88 853.14 L726.56 853.14 L726.56 856.45 L723.25 856.45 L719.93 856.45 L719.93 859.77 L716.62 859.77 L716.62 863.09 L713.30 863.09 L713.30 866.41 L709.98 866.41 L709.98 869.73 L706.67 869.73 L706.67 873.05 L703.35 873.05 L703.35 876.36 L700.04 876.36 L696.72 876.36 L696.72 879.68 L693.40 879.68 L693.40 883.00 L690.09 883.00 L690.09 886.32 L686.77 886.32 L686.77 889.64 L683.46 889.64 L683.46 892.96 L680.14 892.96 L676.82 892.96 L676.82 896.27 L673.51 896.27 L673.51 899.59 L670.19 899.59 L670.19 902.91 L666.88 902.91 L666.88 906.23 L663.56 906.23 L663.56 909.55 L660.24 909.55 L660.24 912.87 L656.93 912.87 L653.61 912.87 L653.61 916.18 L650.30 916.18 L650.30 919.50 L646.98 919.50 L646.98 922.82 L643.66 922.82 L643.66 926.14 L640.35 926.14 L640.35 929.46 L637.03 929.46 L633.72 929.46 L633.72 932.78 L630.40 932.78 L630.40 936.10 L627.08 936.10 L627.08 939.41 L623.77 939.41 L623.77 942.73 L620.45 942.73 L620.45 946.05 L617.14 946.05 L613.82 946.05 L613.82 949.37 L610.50 949.37 L610.50 952.69 L607.19 952.69 L607.19 956.01 L603.87 956.01 L603.87 959.32 L600.56 959.32 L600.56 962.64 L597.24 962.64 L597.24 965.96 L593.92 965.96 L590.61 965.96 L590.61 969.28 L587.29 969.28 L587.29 972.60 L583.98 972.60 L583.98 975.92 L580.66 975.92 L580.66 979.23 L577.34 979.23 L577.34 982.55 L574.03 982.55 L570.71 982.55 L570.71 985.87 L567.40 985.87 L567.40 989.19 L564.08 989.19 L564.08 992.51 L560.76 992.51Z"/>
<path fill="#000" d="M560.76 803.36 L564.08 803.36 L564.08 800.04 L567.40 800.04 L570.71 800.04 L570.71 796.72 L574.03 796.72 L574.03 793.40 L577.34 793.40 L577.34 790.09 L580.66 790.09 L583.98 790.09 L583.98 786.77 L587.29 786.77 L587.29 783.45 L590.61 783.45 L590.61 780.13 L593.92 780.13 L597.24 780.13 L597.24 776.81 L600.56 776.81 L600.56 773.49 L603.87 773.49 L603.87 770.18 L607.19 770.18 L610.50 770.18 L610.50 766.86 L613.82 766.86 L613.82 763.54 L617.14 763.54 L617.14 760.22 L620.45 760.22 L623.77 760.22 L623.77 756.90 L627.08 756.90 L627.08 753.58 L630.40 753.58 L630.40 750.26 L633.72 750.26 L637.03 750.26 L637.03 746.95 L640.35 746.95 L640.35 743.63 L643.66 743.63 L643.66 740.31 L646.98 740.31 L650.30 740.31 L650.30 736.99 L653.61 736.99 L653.61 733.67 L656.93 733.67 L656.93 730.35 L660.24 730.35 L663.56 730.35 L663.56 727.04 L666.88 727.04 L666.88 723.72 L670.19 723.72 L670.19 720.40 L673.51 720.40 L676.82 720.40 L676.82 717.08 L680.14 717.08 L680.14 713.76 L683.46 713.76 L683.46 710.44 L686.77 710.44 L690.09 710.44 L690.09 707.13 L693.40 707.13 L693.40 703.81 L696.72 703.81 L696.72 700.49 L700.04 700.49 L703.35 700.49 L703.35 697.17 L706.67 697.17 L706.67 693.85 L709.98 693.85 L709.98 690.53 L713.30 690.53 L716.62 690.53 L716.62 687.22 L719.93 687.22 L719.93 683.90 L723.25 683.90 L723.25 680.58 L726.56 680.58 L729.88 680.58 L729.88 677.26 L733.20 677.26 L733.20 673.94 L736.51 673.94 L736.51 670.62 L739.83 670.62 L743.14 670.62 L743.14 667.30 L746.46 667.30 L746.46 663.99 L749.78 663.99 L749.78 660.67 L753.09 660.67 L756.41 660.67 L756.41 657.35 L759.72 657.35 L759.72 654.03 L763.04 654.03 L763.04 650.71 L766.36 650.71 L769.67 650.71 L769.67 647.39 L772.99 647.39 L772.99 644.08 L776.30 644.08 L776.30 640.76 L779.62 640.76 L782.94 640.76 L782.94 637.44 L786.25 637.44 L786.25 634.12 L789.57 634.12 L789.57 630.80 L792.88 630.80 L796.20 630.80 L796.20 627.48 L799.52 627.48 L799.52 624.17 L802.83 624.17 L802.83 620.85 L806.15 620.85 L809.46 620.85 L809.46 617.53 L812.78 617.53 L812.78 614.21 L816.10 614.21 L816.10 610.89 L819.41 610.89 L822.73 610.89 L822.73 607.57 L826.04 607.57 L826.04 604.26 L829.36 604.26 L829.36 600.94 L832.68 600.94 L835.99 600.94 L835.99 597.62 L839.31 597.62 L839.31 594.30 L842.62 594.30 L842.62 590.98 L845.94 590.98 L849.26 590.98 L849.26 587.66 L852.57 587.66 L852.57 584.34 L855.89 584.34 L855.89 581.03 L859.20 581.03 L862.52 581.03 L862.52 577.71 L865.84 577.71 L865.84 574.39 L869.15 574.39 L869.15 571.07 L872.47 571.07 L875.78 571.07 L875.78 567.75 L879.10 567.75 L879.10 564.43 L882.42 564.43 L882.42 561.12 L885.73 561.12 L889.05 561.12 L889.05 557.80 L892.36 557.80 L892.36 554.48 L895.68 554.48 L895.68 551.16 L899.00 551.16 L902.31 551.16 L902.31 547.84 L905.63 547.84 L905.63 544.52 L908.94 544.52 L912.26 544.52 L912.26 541.21 L915.58 541.21 L915.58 537.89 L918.89 537.89 L918.89 534.57 L922.21 534.57 L925.52 534.57 L925.52 531.25 L928.84 531.25 L928.84 527.93 L932.16 527.93 L932.16 524.61 L935.47 524.61 L938.79 524.61 L938.79 521.30 L942.10 521.30 L942.10 517.98 L945.42 517.98 L945.42 514.66 L948.74 514.66 L952.05 514.66 L952.05 511.34 L955.37 511.34 L955.37 508.02 L958.68 508.02 L958.68 504.70 L962.00 504.70 L965.32 504.70 L965.32 501.38 L968.63 501.38 L968.63 498.07 L971.95 498.07 L975.26 498.07 L975.26 494.75 L978.58 494.75 L978.58 491.43 L981.90 491.43 L981.90 488.11 L985.21 488.11 L988.53 488.11 L988.53 484.79 L991.84 484.79 L991.84 481.47 L995.16 481.47 L995.16 478.16 L998.48 478.16 L1001.79 478.16 L1001.79 474.84 L1005.11 474.84 L1005.11 471.52 L1008.42 471.52 L1008.42 468.20 L1011.74 468.20 L1015.06 468.20 L1015.06 464.88 L1018.37 464.88 L1018.37 461.56 L1021.69 461.56 L1021.69 458.25 L1025.00 458.25 L1028.32 458.25 L1028.32 454.93 L1031.64 454.93 L1031.64 451.61 L1034.95 451.61 L1034.95 448.29 L1038.27 448.29 L1041.58 448.29 L1041.58 444.97 L1044.90 444.97 L1044.90 441.65 L1048.22 441.65 L1051.53 441.65 L1051.53 438.34 L1054.85 438.34 L1054.85 435.02 L1058.16 435.02 L1058.16 431.70 L1061.48 431.70 L1064.80 431.70 L1064.80 428.38 L1068.11 428.38 L1068.11 425.06 L1071.43 425.06 L1071.43 421.74 L1074.74 421.74 L1078.06 421.74 L1078.06 418.42 L1081.38 418.42 L1081.38 415.11 L1084.69 415.11 L1084.69 411.79 L1088.01 411.79 L1091.32 411.79 L1091.32 408.47 L1094.64 408.47 L1094.64 405.15 L1097.96 405.15 L1097.96 401.83 L1101.27 401.83 L1104.59 401.83 L1104.59 398.51 L1107.90 398.51 L1107.90 395.20 L1111.22 395.20 L1114.54 395.20 L1114.54 391.88 L1117.85 391.88 L1117.85 388.56 L1121.17 388.56 L1121.17 385.24 L1124.48 385.24 L1127.80 385.24 L1127.80 381.92 L1131.12 381.92 L1131.12 378.60 L1134.43 378.60 L1134.43 375.29 L1137.75 375.29 L1141.06 375.29 L1141.06 371.97 L1144.38 371.97 L1144.38 368.65 L1147.70 368.65 L1147.70 365.33 L1151.01 365.33 L1154.33 365.33 L1154.33 362.01 L1157.64 362.01 L1157.64 358.69 L1160.96 358.69 L1160.96 355.38 L1164.28 355.38 L1167.59 355.38 L1167.59 352.06 L1170.91 352.06 L1170.91 348.74 L1174.22 348.74 L1174.22 345.42 L1177.54 345.42 L1180.86 345.42 L1180.86 342.10 L1184.17 342.10 L1184.17 338.78 L1187.49 338.78 L1190.80 338.78 L1190.80 335.46 L1194.12 335.46 L1194.12 332.15 L1197.44 332.15 L1197.44 328.83 L1200.75 328.83 L1204.07 328.83 L1204.07 325.51 L1207.38 325.51 L1207.38 322.19 L1210.70 322.19 L1210.70 318.87 L1214.02 318.87 L1217.33 318.87 L1217.33 315.55 L1220.65 315.55 L1220.65 312.24 L1223.96 312.24 L1223.96 308.92 L1227.28 308.92 L1230.60 308.92 L1230.60 305.60 L1233.91 305.60 L1233.91 302.28 L1237.23 302.28 L1237.23 298.96 L1240.54 298.96 L1243.86 298.96 L1243.86 295.64 L1247.18 295.64 L1247.18 305.60 L1243.86 305.60 L1243.86 308.92 L1240.54 308.92 L1237.23 308.92 L1237.23 312.24 L1233.91 312.24 L1233.91 315.55 L1230.60 315.55 L1230.60 318.87 L1227.28 318.87 L1223.96 318.87 L1223.96 322.19 L1220.65 322.19 L1220.65 325.51 L1217.33 325.51 L1217.33 328.83 L1214.02 328.83 L1210.70 328.83 L1210.70 332.15 L1207.38 332.15 L1207.38 335.46 L1204.07 335.46 L1204.07 338.78 L1200.75 338.78 L1197.44 338.78 L1197.44 342.10 L1194.12 342.10 L1194.12 345.42 L1190.80 345.42 L1190.80 348.74 L1187.49 348.74 L1184.17 348.74 L1184.17 352.06 L1180.86 352.06 L1180.86 355.38 L1177.54 355.38 L1174.22 355.38 L1174.22 358.69 L1170.91 358.69 L1170.91 362.01 L1167.59 362.01 L1167.59 365.33 L1164.28 365.33 L1160.96 365.33 L1160.96 368.65 L1157.64 368.65 L1157.64 371.97 L1154.33 371.97 L1154.33 375.29 L1151.01 375.29 L1147.70 375.29 L1147.70 378.60 L1144.38 378.60 L1144.38 381.92 L1141.06 381.92 L1141.06 385.24 L1137.75 385.24 L1134.43 385.24 L1134.43 388.56 L1131.12 388.56 L1131.12 391.88 L1127.80 391.88 L1127.80 395.20 L1124.48 395.20 L1121.17 395.20 L1121.17 398.51 L1117.85 398.51 L1117.85 401.83 L1114.54 401.83 L1114.54 405.15 L1111.22 405.15 L1107.90 405.15 L1107.90 408.47 L1104.59 408.47 L1104.59 411.79 L1101.27 411.79 L1097.96 411.79 L1097.96 415.11 L1094.64 415.11 L1094.64 418.42 L1091.32 418.42 L1091.32 421.74 L1088.01 421.74 L1084.69 421.74 L1084.69 425.06 L1081.38 425.06 L1081.38 428.38 L1078.06 428.38 L1078.06 431.70 L1074.74 431.70 L1071.43 431.70 L1071.43 435.02 L1068.11 435.02 L1068.11 438.34 L1064.80 438.34 L1064.80 441.65 L1061.48 441.65 L1058.16 441.65 L1058.16 444.97 L1054.85 444.97 L1054.85 448.29 L1051.53 448.29 L1051.53 451.61 L1048.22 451.61 L1044.90 451.61 L1044.90 454.93 L1041.58 454.93 L1041.58 458.25 L1038.27 458.25 L1034.95 458.25 L1034.95 461.56 L1031.64 461.56 L1031.64 464.88 L1028.32 464.88 L1028.32 468.20 L1025.00 468.20 L1021.69 468.20 L1021.69 471.52 L1018.37 471.52 L1018.37 474.84 L1015.06 474.84 L1015.06 478.16 L1011.74 478.16 L1008.42 478.16 L1008.42 481.47 L1005.11 481.47 L1005.11 484.79 L1001.79 484.79 L1001.79 488.11 L998.48 488.11 L995.16 488.11 L995.16 491.43 L991.84 491.43 L991.84 494.75 L988.53 494.75 L988.53 498.07 L985.21 498.07 L981.90 498.07 L981.90 501.38 L978.58 501.38 L978.58 504.70 L975.26 504.70 L975.26 508.02 L971.95 508.02 L968.63 508.02 L968.63 511.34 L965.32 511.34 L965.32 514.66 L962.00 514.66 L958.68 514.66 L958.68 517.98 L955.37 517.98 L955.37 521.30 L952.05 521.30 L952.05 524.61 L948.74 524.61 L945.42 524.61 L945.42 527.93 L942.10 527.93 L942.10 531.25 L938.79 531.25 L938.79 534.57 L935.47 534.57 L932.16 534.57 L932.16 537.89 L928.84 537.89 L928.84 541.21 L925.52 541.21 L925.52 544.52 L922.21 544.52 L918.89 544.52 L918.89 547.84 L915.58 547.84 L915.58 551.16 L912.26 551.16 L912.26 554.48 L908.94 554.48 L905.63 554.48 L905.63 557.80 L902.31 557.80 L902.31 561.12 L899.00 561.12 L895.68 561.12 L895.68 564.43 L892.36 564.43 L892.36 567.75 L889.05 567.75 L889.05 571.07 L885.73 571.07 L882.42 571.07 L882.42 574.39 L879.10 574.39 L879.10 577.71 L875.78 577.71 L875.78 581.03 L872.47 581.03 L869.15 581.03 L869.15 584.34 L865.84 584.34 L865.84 587.66 L862.52 587.66 L862.52 590.98 L859.20 590.98 L855.89 590.98 L855.89 594.30 L852.57 594.30 L852.57 597.62 L849.26 597.62 L849.26 600.94 L845.94 600.94 L842.62 600.94 L842.62 604.26 L839.31 604.26 L839.31 607.57 L835.99 607.57 L835.99 610.89 L832.68 610.89 L829.36 610.89 L829.36 614.21 L826.04 614.21 L826.04 617.53 L822.73 617.53 L822.73 620.85 L819.41 620.85 L816.10 620.85 L816.10 624.17 L812.78 624.17 L812.78 627.48 L809.46 627.48 L809.46 630.80 L806.15 630.80 L802.83 630.80 L802.83 634.12 L799.52 634.12 L799.52 637.44 L796.20 637.44 L796.20 640.76 L792.88 640.76 L789.57 640.76 L789.57 644.08 L786.25 644.08 L786.25 647.39 L782.94 647.39 L782.94 650.71 L779.62 650.71 L776.30 650.71 L776.30 654.03 L772.99 654.03 L772.99 657.35 L769.67 657.35 L769.67 660.67 L766.36 660.67 L763.04 660.67 L763.04 663.99 L759.72 663.99 L759.72 667.30 L756.41 667.30 L756.41 670.62 L753.09 670.62 L749.78 670.62 L749.78 673.94 L746.46 673.94 L746.46 677.26 L743.14 677.26 L743.14 680.58 L739.83 680.58 L736.51 680.58 L736.51 683.90 L733.20 683.90 L733.20 687.22 L729.88 687.22 L729.88 690.53 L726.56 690.53 L723.25 690.53 L723.25 693.85 L719.93 693.85 L719.93 697.17 L716.62 697.17 L716.62 700.49 L713.30 700.49 L709.98 700.49 L709.98 703.81 L706.67 703.81 L706.67 707.13 L703.35 707.13 L703.35 710.44 L700.04 710.44 L696.72 710.44 L696.72 713.76 L693.40 713.76 L693.40 717.08 L690.09 717.08 L690.09 720.40 L686.77 720.40 L683.46 720.40 L683.46 723.72 L680.14 723.72 L680.14 727.04 L676.82 727.04 L676.82 730.35 L673.51 730.35 L670.19 730.35 L670.19 733.67 L666.88 733.67 L666.88 736.99 L663.56 736.99 L663.56 740.31 L660.24 740.31 L656.93 740.31 L656.93 743.63 L653.61 743.63 L653.61 746.95 L650.30 746.95 L650.30 750.26 L646.98 750.26 L643.66 750.26 L643.66 753.58 L640.35 753.58 L640.35 756.90 L637.03 756.90 L637.03 760.22 L633.72 760.22 L630.40 760.22 L630.40 763.54 L627.08 763.54 L627.08 766.86 L623.77 766.86 L623.77 770.18 L620.45 770.18 L617.14 770.18 L617.14 773.49 L613.82 773.49 L613.82 776.81 L610.50 776.81 L610.50 780.13 L607.19 780.13 L603.87 780.13 L603.87 783.45 L600.56 783.45 L600.56 786.77 L597.24 786.77 L597.24 790.09 L593.92 790.09 L590.61 790.09 L590.61 793.40 L587.29 793.40 L587.29 796.72 L583.98 796.72 L583.98 800.04 L580.66 800.04 L577.34 800.04 L577.34 803.36 L574.03 803.36 L574.03 806.68 L570.71 806.68 L570.71 810.00 L567.40 810.00 L564.08 810.00 L564.08 813.31 L560.76 813.31Z"/>
<!-- axis ticks -->
<g fill="#0000ff">
<rect x="222.53" y="232.59" width="9.95" height="3.32" fill="#0000ff"/>
<rect x="222.53" y="282.37" width="16.58" height="3.32" fill="#0000ff"/>
<rect x="222.53" y="332.15" width="9.95" height="3.31" fill="#0000ff"/>
<rect x="222.53" y="381.92" width="16.58" height="3.32" fill="#0000ff"/>
<rect x="222.53" y="431.70" width="9.95" height="3.32" fill="#0000ff"/>
<rect x="222.53" y="481.47" width="16.58" height="3.32" fill="#0000ff"/>
<rect x="222.53" y="531.25" width="9.95" height="3.32" fill="#0000ff"/>
<rect x="222.53" y="581.03" width="16.58" height="3.31" fill="#0000ff"/>
<rect x="222.53" y="630.80" width="9.95" height="3.32" fill="#0000ff"/>
<rect x="222.53" y="680.58" width="16.58" height="3.32" fill="#0000ff"/>
<rect x="222.53" y="730.35" width="9.95" height="3.32" fill="#0000ff"/>
<rect x="222.53" y="780.13" width="16.58" height="3.32" fill="#0000ff"/>
<rect x="222.53" y="829.91" width="9.95" height="3.31" fill="#0000ff"/>
<rect x="222.53" y="879.68" width="16.58" height="3.32" fill="#0000ff"/>
<rect x="222.53" y="929.46" width="9.95" height="3.32" fill="#0000ff"/>
<rect x="222.53" y="979.23" width="16.58" height="3.32" fill="#0000ff"/>
<rect x="222.53" y="1029.01" width="9.95" height="3.32" fill="#0000ff"/>
<rect x="222.53" y="1078.79" width="16.58" height="3.31" fill="#0000ff"/>
<rect x="222.53" y="1128.56" width="9.95" height="3.32" fill="#0000ff"/>
<rect x="560.76" y="1161.75" width="3.32" height="16.59" fill="#0000ff"/>
<rect x="902.31" y="1161.75" width="3.32" height="16.59" fill="#0000ff"/>
<rect x="1243.86" y="1161.75" width="3.32" height="16.59" fill="#0000ff"/>
</g>
<!-- legend -->
<path fill="rgba(0,0,0,0.610)" d="M1568.83 328.83H1572.14V508.02H1330.08V504.70H1568.83Z"/>
<path fill="rgba(0,0,0,0.445)" d="M1572.14 328.83H1575.46V511.34H1330.08V508.02H1572.14Z"/>
<path fill="rgba(0,0,0,0.280)" d="M1575.46 328.83H1578.78V514.66H1330.08V511.34H1575.46Z"/>
<path fill="rgba(0,0,0,0.140)" d="M1578.78 328.83H1582.09V517.98H1330.08V514.66H1578.78Z"/>
<rect x="1316.81" y="315.55" width="252.02" height="189.15" fill="#000"/>
<rect x="1320.13" y="318.87" width="245.38" height="182.51" fill="#fff"/>
<rect x="1333.39" y="345.42" width="56.37" height="13.27" fill="#000"/>
<rect x="1333.39" y="405.15" width="56.37" height="9.96" fill="#000"/>
<rect x="1333.39" y="468.20" width="56.37" height="6.64" fill="#000"/>
<!-- plot frame -->
<path fill="#000" fill-rule="evenodd" d="M215.90 179.50H1592.04V1184.98H215.90Z M222.53 186.14H1585.41V1178.34H222.53Z"/>
<!-- titles -->
<text class="b" transform="translate(546.80 79.90) scale(0.9890 1)" font-size="50.27">SIWB moderated WP_Female</text>
<text class="b" transform="translate(1402.10 302.00) scale(0.9890 1)" font-size="50.27">AS</text>
<text class="b" transform="translate(896.80 1308.10) scale(0.9890 1)" font-size="50.27">SIWB</text>
<text class="b" transform="translate(80.10 715.30) rotate(-90) scale(0.9890 1)" font-size="50.27">WP</text>
<!-- x axis labels -->
<text class="m" transform="translate(523.30 1241.30) scale(0.9680 1)" font-size="45.53">Low</text>
<text class="m" transform="translate(825.20 1241.30) scale(0.9680 1)" font-size="45.53">Medium</text>
<text class="m" transform="translate(1193.80 1241.30) scale(0.9680 1)" font-size="45.53">High</text>
<!-- y axis labels -->
<text class="n" font-size="37.40" transform="translate(0 199.11) scale(0.9300 1)" x="123.47 151.84 166.27 187.67">5.00</text>
<text class="n" font-size="37.40" transform="translate(0 298.66) scale(0.9300 1)" x="123.47 151.84 166.27 187.67">4.90</text>
<text class="n" font-size="37.40" transform="translate(0 398.21) scale(0.9300 1)" x="123.47 151.84 166.27 187.67">4.80</text>
<text class="n" font-size="37.40" transform="translate(0 497.77) scale(0.9300 1)" x="123.47 151.84 166.27 187.67">4.70</text>
<text class="n" font-size="37.40" transform="translate(0 597.32) scale(0.9300 1)" x="123.47 151.84 166.27 187.67">4.60</text>
<text class="n" font-size="37.40" transform="translate(0 696.87) scale(0.9300 1)" x="123.47 151.84 166.27 187.67">4.50</text>
<text class="n" font-size="37.40" transform="translate(0 796.42) scale(0.9300 1)" x="123.47 151.84 166.27 187.67">4.40</text>
<text class="n" font-size="37.40" transform="translate(0 895.97) scale(0.9300 1)" x="123.47 151.84 166.27 187.67">4.30</text>
<text class="n" font-size="37.40" transform="translate(0 995.53) scale(0.9300 1)" x="123.47 151.84 166.27 187.67">4.20</text>
<text class="n" font-size="37.40" transform="translate(0 1095.08) scale(0.9300 1)" x="123.47 151.84 166.27 187.67">4.10</text>
<text class="n" font-size="37.40" transform="translate(0 1194.63) scale(0.9300 1)" x="123.47 151.84 166.27 187.67">4.00</text>
<!-- legend labels -->
<text class="m k" transform="translate(1417.90 362.01) scale(0.9073 1)" font-size="36.43">High</text>
<text class="m k" transform="translate(1417.90 421.74) scale(0.9073 1)" font-size="36.43">Medium</text>
<text class="m k" transform="translate(1417.90 481.47) scale(0.9073 1)" font-size="36.43">Low</text>
<!-- caption -->
<text class="s" font-size="87.10" transform="translate(0 1457.00) scale(0.9250 1)" x="927.73 958.05 997.19">(<tspan font-weight="bold">c</tspan>)</text>
</svg>
</body>
</html>
